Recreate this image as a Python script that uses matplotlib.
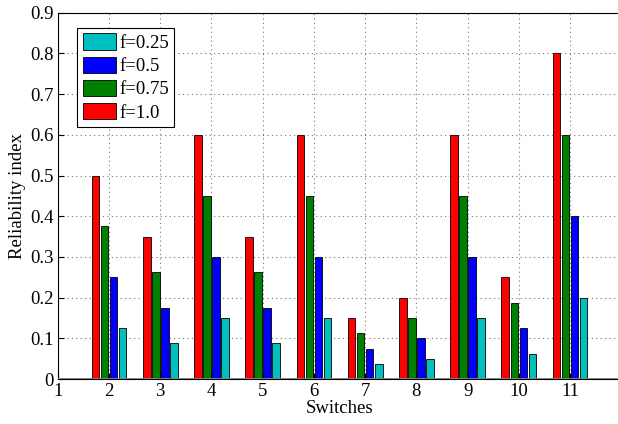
import numpy as np
import matplotlib.pyplot as plt

plt.rcParams['font.family'] = ['Liberation Serif', 'DejaVu Serif']

switches = [2, 3, 4, 5, 6, 7, 8, 9, 10, 11]
f_100 = [0.5, 0.35, 0.6, 0.35, 0.6, 0.15, 0.2, 0.6, 0.25, 0.8]
f_075 = [0.375, 0.2625, 0.45, 0.2625, 0.45, 0.1125, 0.15, 0.45, 0.1875, 0.6]
f_050 = [0.25, 0.175, 0.3, 0.175, 0.3, 0.075, 0.1, 0.3, 0.125, 0.4]
f_025 = [0.125, 0.0875, 0.15, 0.0875, 0.15, 0.0375, 0.05, 0.15, 0.0625, 0.2]

fig = plt.figure(figsize=(6.18, 4.24), dpi=100)
ax = fig.add_axes([0.0934, 0.106, 0.912, 0.864])

x = np.array(switches)
w = 0.15
step = 0.176
series = [
    (f_100, '#ff0000', 'f=1.0', -1.5),
    (f_075, '#008000', 'f=0.75', -0.5),
    (f_050, '#0000ff', 'f=0.5', 0.5),
    (f_025, '#00bfbf', 'f=0.25', 1.5),
]
bars = {}
for vals, col, lab, k in series:
    bars[lab] = ax.bar(x + k * step, vals, width=w, color=col,
                       edgecolor='black', linewidth=0.6, zorder=3)

ax.axhline(0, color='gray', linewidth=1.4, zorder=4)

ax.set_xlim(1, 12)
ax.set_ylim(0, 0.9)
ax.set_xticks(range(1, 12))
ax.set_yticks(np.arange(0, 0.91, 0.1))
ax.set_yticklabels(['0', '0.1', '0.2', '0.3', '0.4', '0.5', '0.6', '0.7', '0.8', '0.9'])
ax.tick_params(direction='in', labelsize=13.5, length=4, pad=3)
ax.grid(True, linestyle=(0, (1, 3)), color='#777777', linewidth=0.8, zorder=0)

ax.set_xlabel('Switches', fontsize=13.5, labelpad=0)
ax.set_ylabel('Reliability index', fontsize=13.5, labelpad=3)

order = ['f=0.25', 'f=0.5', 'f=0.75', 'f=1.0']
leg = ax.legend([bars[k] for k in order], order, loc='upper left',
                bbox_to_anchor=(0.034, 0.959), fontsize=13.5, fancybox=False,
                edgecolor='black', framealpha=1, handlelength=1.8,
                handleheight=0.95, handletextpad=0.15, labelspacing=0.25,
                borderpad=0.3, borderaxespad=0)
leg.get_frame().set_linewidth(0.8)

fig.savefig('out.png', dpi=100)
